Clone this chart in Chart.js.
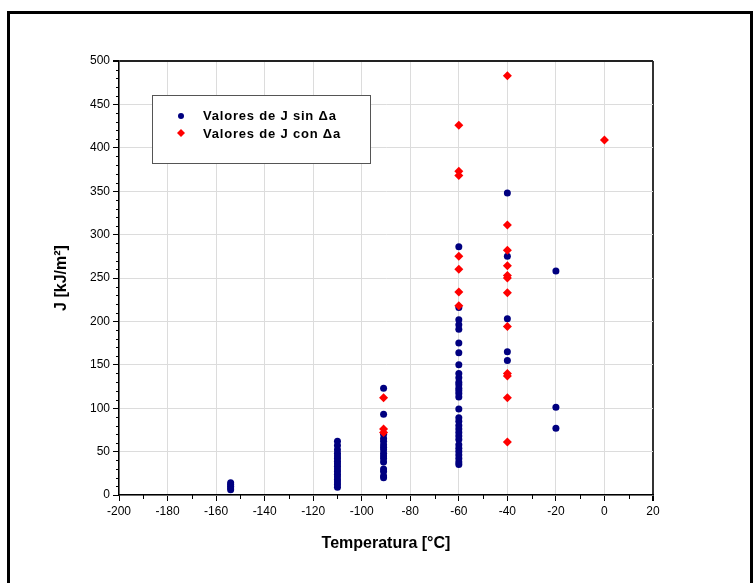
<!DOCTYPE html>
<html>
<head>
<meta charset="utf-8">
<script src="https://cdn.jsdelivr.net/npm/chart.js@4.4.1/dist/chart.umd.min.js"></script>
<style>
  body { margin: 0; background: #fff; }
  #frame { position: absolute; left: 7px; top: 11px; width: 740px; height: 600px; border: 3px solid #000; }
  #c { position: absolute; left: 0; top: 0; }
</style>
</head>
<body>
<div id="frame"></div>
<canvas id="c" width="753" height="583"></canvas>
<script>
// temperatures (°C) and J values (kJ/m2)
var sinTemps = [-154, -110, -91, -60, -40, -20];
var sinJ = [
    [6, 8, 10, 12, 14],
    [62, 57, 52, 48, 45, 42, 39, 36, 33, 30, 27, 24, 21, 18, 15, 12, 9],
    [123, 93, 70, 65, 62, 58, 55, 52, 48, 45, 42, 38, 30, 27, 22, 20],
    [286, 216, 202, 196, 191, 175, 164, 150, 140, 135, 130, 127, 123, 120, 117, 113,
     99, 89, 85, 80, 76, 72, 68, 64, 58, 54, 50, 46, 42, 38, 35],
    [348, 275, 203, 165, 155],
    [258, 101, 77]
];
var conTemps = [-91, -60, -40, 0];
var conJ = [
    [112, 76, 72],
    [426, 373, 368, 275, 260, 234, 218],
    [483, 311, 282, 264, 253, 250, 233, 194, 140, 137, 112, 61],
    [409]
];
var xTicks = [-200, 20, 20];   // min, max, step
var yTicks = [0, 500, 50];

function toPoints(temps, vals) {
    var pts = [];
    temps.forEach(function (t, i) {
        vals[i].forEach(function (v) { pts.push({x: t, y: v}); });
    });
    return pts;
}

var minorTicks = {
    id: 'minorTicks',
    afterDraw: function (chart) {
        var ctx = chart.ctx, area = chart.chartArea;
        var xs = chart.scales.x, ys = chart.scales.y;
        ctx.save();
        ctx.strokeStyle = '#000';
        ctx.lineWidth = 1;
        ctx.beginPath();
        for (var v = yTicks[0] + 10; v < yTicks[1]; v += 10) {
            if (v % yTicks[2] === 0) continue;
            var py = Math.round(ys.getPixelForValue(v)) + 0.5;
            ctx.moveTo(area.left - 3, py);
            ctx.lineTo(area.left, py);
        }
        for (var t = xTicks[0] + 10; t < xTicks[1]; t += 20) {
            var px = Math.round(xs.getPixelForValue(t)) + 0.5;
            ctx.moveTo(px, area.bottom);
            ctx.lineTo(px, area.bottom + 4);
        }
        ctx.stroke();

        // legend box
        var bx = 152, by = 95, bw = 218, bh = 68;
        ctx.fillStyle = '#fff';
        ctx.fillRect(bx, by, bw, bh);
        ctx.strokeStyle = '#555';
        ctx.strokeRect(bx + 0.5, by + 0.5, bw, bh);
        ctx.fillStyle = '#000080';
        ctx.beginPath();
        ctx.arc(181, 116, 3, 0, Math.PI * 2);
        ctx.fill();
        ctx.fillStyle = '#ff0000';
        ctx.beginPath();
        ctx.moveTo(181, 129); ctx.lineTo(185, 133); ctx.lineTo(181, 137); ctx.lineTo(177, 133);
        ctx.closePath();
        ctx.fill();
        ctx.fillStyle = '#000';
        ctx.font = 'bold 13px Arial, "Liberation Sans"';
        ctx.letterSpacing = '0.8px';
        ctx.textBaseline = 'middle';
        ctx.fillText('Valores de J sin \u0394a', 203, 116);
        ctx.fillText('Valores de J con \u0394a', 203, 134);
        ctx.restore();
    }
};

var ctx = document.getElementById('c').getContext('2d');
var chart = new Chart(ctx, {
    type: 'scatter',
    data: {
        datasets: [
            {
                label: 'Valores de J sin \u0394a',
                data: toPoints(sinTemps, sinJ),
                backgroundColor: '#000080',
                borderColor: '#000080',
                pointStyle: 'circle',
                pointRadius: 3.5,
                borderWidth: 0,
                order: 1
            },
            {
                label: 'Valores de J con \u0394a',
                data: toPoints(conTemps, conJ),
                backgroundColor: '#ff0000',
                borderColor: '#ff0000',
                pointStyle: 'rectRot',
                pointRadius: 4.5,
                borderWidth: 0,
                order: 0
            }
        ]
    },
    options: {
        responsive: false,
        animation: false,
        devicePixelRatio: 1,
        layout: { padding: { top: 61, right: 100, left: 0, bottom: 0 } },
        plugins: { legend: { display: false }, tooltip: { enabled: false } },
        scales: {
            x: {
                type: 'linear',
                min: xTicks[0], max: xTicks[1],
                afterFit: function (s) { s.height = 88; },
                ticks: { stepSize: xTicks[2], color: '#000', padding: 3,
                         font: { family: 'Arial, "Liberation Sans"', size: 12 } },
                grid: {
                    color: function (c) { return c.tick && c.tick.value === xTicks[1] ? '#333' : '#dcdcdc'; },
                    lineWidth: function (c) { return c.tick && c.tick.value === xTicks[1] ? 2 : 1; },
                    tickColor: '#000', tickLength: 6
                },
                border: { color: '#000', width: 1.5 },
                title: { display: true, text: 'Temperatura [\u00b0C]', color: '#000',
                         font: { family: 'Arial, "Liberation Sans"', size: 16, weight: 'bold' },
                         padding: { top: 0, bottom: 30 } }
            },
            y: {
                min: yTicks[0], max: yTicks[1],
                afterFit: function (s) { s.width = 119; },
                ticks: { stepSize: yTicks[2], color: '#000', padding: 3,
                         font: { family: 'Arial, "Liberation Sans"', size: 12 } },
                grid: {
                    color: function (c) { return c.tick && c.tick.value === yTicks[1] ? '#222' : '#dcdcdc'; },
                    lineWidth: function (c) { return c.tick && c.tick.value === yTicks[1] ? 2 : 1; },
                    tickColor: '#000', tickLength: 6
                },
                border: { color: '#000', width: 1.5 },
                title: { display: true, text: 'J [kJ/m\u00b2]', color: '#000',
                         font: { family: 'Arial, "Liberation Sans"', size: 16, weight: 'bold' },
                         padding: { top: 52, bottom: 0 } }
            }
        }
    },
    plugins: [minorTicks]
});
</script>
</body>
</html>
